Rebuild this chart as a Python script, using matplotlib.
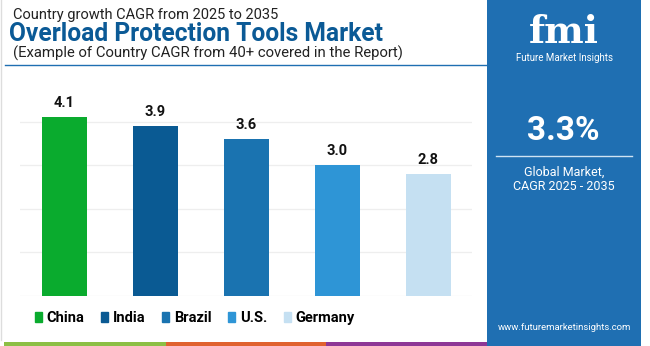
import matplotlib
matplotlib.use("Agg")
import matplotlib.pyplot as plt
from matplotlib.patches import Rectangle
from matplotlib.lines import Line2D

countries = ["China", "India", "Brazil", "U.S.", "Germany"]
cagr = [4.1, 3.9, 3.6, 3.0, 2.8]
colors = ["#0aab2e", "#0a5a93", "#1a73b0", "#2e95d6", "#c5e0f2"]
global_cagr = "3.3%"

W, H = 650, 346
fig = plt.figure(figsize=(W / 100, H / 100), dpi=100)
fig.patch.set_facecolor("white")
FONT = "Roboto"

def fx(px):
    return px / W

def fy(py):
    return 1 - py / H

# thin left border
fig.add_artist(Line2D([fx(0.5), fx(0.5)], [fy(0), fy(340)], color="#dddddd", lw=1.0))

# Titles
fig.text(fx(13), fy(15), "Country growth CAGR from 2025 to 2035", fontsize=10.5,
         family=FONT, color="#222222", va="center", ha="left")
fig.text(fx(9), fy(34), "Overload Protection Tools Market", fontsize=17.7,
         family=FONT, weight="bold", color="#0b5a96", va="center", ha="left")
fig.text(fx(13), fy(53), "(Example of Country CAGR from 40+ covered in the Report)", fontsize=10.7,
         family=FONT, color="#222222", va="center", ha="left")
fig.add_artist(Line2D([fx(5), fx(487)], [fy(65), fy(65)], color="#1f6fb2", lw=1.0))

# Chart axes
ax = fig.add_axes([fx(20), (H - 296) / H, fx(452), 196 / H])
x = list(range(len(countries)))
bars = ax.bar(x, cagr, width=0.5, color=colors, zorder=3)
ax.set_xlim(-0.49, 4.48)
ax.set_ylim(0, 4.5)
for yv in [0, 1, 2, 3, 4]:
    ax.axhline(yv, color="#eeeeee", lw=0.9, zorder=1)
for b, v in zip(bars, cagr):
    ax.annotate(f"{v:.1f}", (b.get_x() + b.get_width() / 2, v), xytext=(0, 5),
                textcoords="offset points", ha="center", va="bottom",
                fontsize=10.5, weight="bold", family=FONT, color="#111111")
ax.axis("off")

# Legend
handles = [Rectangle((0, 0), 1, 1, color=c) for c in colors]
fig.legend(handles, countries, loc="center", bbox_to_anchor=(fx(195), fy(318)), ncol=5,
           frameon=False, handlelength=0.45, handleheight=0.75, handletextpad=0.35,
           columnspacing=1.15, prop={"family": FONT, "weight": "bold", "size": 10.5})

# Bottom strip
for x0, x1, c in [(4, 166, "#8cbf45"), (166, 326, "#e0622f"), (326, 488, "#8e3796")]:
    fig.add_artist(Rectangle((fx(x0), 0), fx(x1 - x0), 4 / H, color=c, lw=0,
                             transform=fig.transFigure))

# Right panel
fig.add_artist(Rectangle((fx(487), 0), fx(154), 1, color="#1f6fb2", lw=0,
                         transform=fig.transFigure))
fig.text(fx(564), fy(43), "fmi", fontsize=27, family="DejaVu Serif", weight="bold",
         color="white", ha="center", va="baseline")
fig.text(fx(564), fy(58), "Future Market Insights", fontsize=7, family=FONT,
         color="white", ha="center", va="center")
fig.text(fx(563), fy(131), global_cagr, fontsize=24, family=FONT, weight="bold",
         color="white", ha="center", va="center")
fig.add_artist(Line2D([fx(496), fx(632)], [fy(156), fy(156)], color="#cfe3f3", lw=1.0))
fig.text(fx(564), fy(172), "Global Market,", fontsize=9, family=FONT,
         color="white", ha="center", va="center")
fig.text(fx(564), fy(186), "CAGR 2025 - 2035", fontsize=9, family=FONT,
         color="white", ha="center", va="center")
fig.text(fx(564), fy(328), "www.futuremarketinsights.com", fontsize=6.8, family=FONT,
         color="white", ha="center", va="center")

fig.savefig("out.png", dpi=100, facecolor="white")
